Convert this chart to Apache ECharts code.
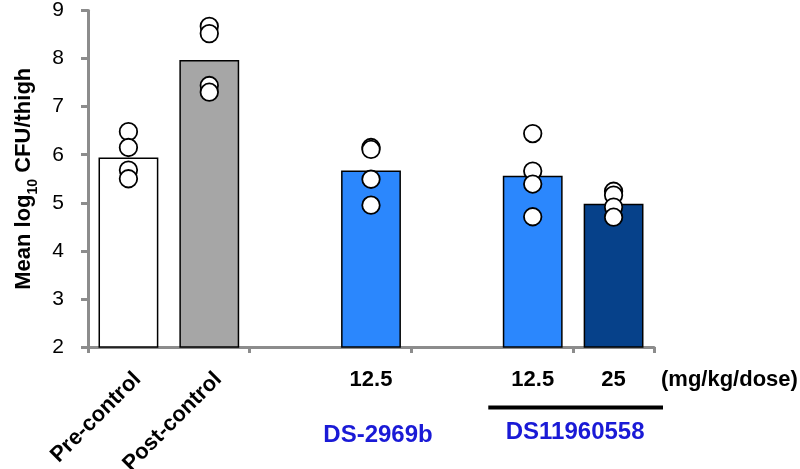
<!DOCTYPE html>
<html>
<head>
<meta charset="utf-8">
<script src="https://cdn.jsdelivr.net/npm/echarts@6/dist/echarts.min.js"></script>
<style>
html,body{margin:0;padding:0;background:#fff;}
#c{width:800px;height:469px;}
</style>
</head>
<body>
<div id="c"></div>
<script>
// ---- data ----
var categories = ['Pre-control', 'Post-control', 'gap1', 'DS-2969b 12.5', 'gap2', 'DS11960558 12.5', 'DS11960558 25'];
var controlLabels = ['Pre-control', 'Post-control', '', '', '', '', ''];
var doseLabels = ['', '', '', '12.5', '', '12.5', '25'];
var meanValues = [5.94, 7.97, null, 5.67, null, 5.56, 4.98];
var barColors = ['#ffffff', '#a6a6a6', '#ffffff', '#2b87fd', '#ffffff', '#2b87fd', '#06418a'];
var ptsPre = [6.48, 6.15, 5.68, 5.50];
var ptsPost = [8.67, 8.52, 7.44, 7.30];
var ptsDS2969b = [6.15, 6.11, 5.49, 4.95];
var ptsDS1_125 = [6.44, 5.66, 5.39, 4.71];
var ptsDS1_25 = [5.24, 5.16, 4.91, 4.70];
var yTicks = [2, 3, 4, 5, 6, 7, 8, 9];
var unitLabel = '(mg/kg/dose)';
var drug1 = 'DS-2969b';
var drug2 = 'DS11960558';

var pointGroups = [[0, ptsPre], [1, ptsPost], [3, ptsDS2969b], [5, ptsDS1_125], [6, ptsDS1_25]];
var scatterData = [];
pointGroups.forEach(function (g) {
  g[1].forEach(function (v) { scatterData.push([categories[g[0]], v]); });
});

var chart = echarts.init(document.getElementById('c'), null, {renderer: 'canvas'});
var axisGray = '#8c8c8c';
var FONT = 'Liberation Sans, Arial, sans-serif';

chart.setOption({
  animation: false,
  backgroundColor: '#ffffff',
  grid: {left: 88, right: 146, top: 10, bottom: 122, containLabel: false},
  xAxis: [{
    type: 'category',
    data: categories,
    position: 'bottom',
    axisLine: {lineStyle: {color: axisGray, width: 3}},
    axisTick: {show: true, length: 6, lineStyle: {color: axisGray, width: 3}, alignWithLabel: false},
    axisLabel: {show: false},
    splitLine: {show: false}
  }, {
    type: 'category',
    data: categories,
    position: 'bottom',
    axisLine: {show: false},
    axisTick: {show: false},
    axisLabel: {
      show: true, interval: 0, margin: 22,
      formatter: function (v, i) { return doseLabels[i]; },
      fontFamily: FONT, fontWeight: 'bold', fontSize: 22, color: '#000'
    }
  }],
  yAxis: {
    type: 'value',
    min: yTicks[0], max: yTicks[yTicks.length - 1], interval: 1,
    axisLine: {show: true, lineStyle: {color: axisGray, width: 3}},
    axisTick: {show: true, length: 7, lineStyle: {color: axisGray, width: 3}},
    axisLabel: {margin: 24, fontFamily: FONT, fontSize: 21, color: '#000'},
    splitLine: {show: false},
    name: '{b|Mean log}{s|10}{b| CFU/thigh}',
    nameLocation: 'middle',
    nameRotate: 90,
    nameGap: 53,
    nameTextStyle: {
      rich: {
        b: {fontFamily: FONT, fontWeight: 'bold', fontSize: 22, color: '#000', lineHeight: 26, verticalAlign: 'bottom'},
        s: {fontFamily: FONT, fontWeight: 'bold', fontSize: 14, color: '#000', lineHeight: 26, verticalAlign: 'bottom', padding: [0, 0, -5, 0]}
      }
    }
  },
  series: [{
    type: 'bar',
    xAxisIndex: 0,
    barWidth: '74%',
    data: meanValues.map(function (v, i) {
      return {value: v, itemStyle: {color: barColors[i]}};
    }),
    itemStyle: {borderColor: '#000', borderWidth: 1.5},
    z: 2
  }, {
    type: 'scatter',
    xAxisIndex: 0,
    data: scatterData,
    symbol: 'circle',
    symbolSize: 17.5,
    itemStyle: {color: '#ffffff', borderColor: '#000', borderWidth: 1.8, opacity: 1},
    z: 3
  }]
});

// annotations positioned through the axis scales
function px(cat) { return chart.convertToPixel({xAxisIndex: 0}, cat); }
var axisY = chart.convertToPixel({yAxisIndex: 0}, yTicks[0]);
var band = px(categories[1]) - px(categories[0]);
var graphics = [];
[0, 1].forEach(function (i) {
  graphics.push({
    type: 'text',
    x: px(categories[i]) + 9, y: axisY + 29,
    rotation: Math.PI / 4,
    style: {text: controlLabels[i], font: 'bold 22px ' + FONT, fill: '#000', align: 'right', verticalAlign: 'middle'}
  });
});
var rightEdge = px(categories[6]) + band / 2;
graphics.push({
  type: 'text', x: rightEdge + 7, y: axisY + 33,
  style: {text: unitLabel, font: 'bold 22px ' + FONT, fill: '#000', align: 'left', verticalAlign: 'middle'}
});
graphics.push({
  type: 'text', x: px(categories[3]) + 7, y: axisY + 88,
  style: {text: drug1, font: 'bold 24px ' + FONT, fill: '#1a1ad6', align: 'center', verticalAlign: 'middle'}
});
var mid56 = (px(categories[5]) + px(categories[6])) / 2;
graphics.push({
  type: 'text', x: mid56 + 2, y: axisY + 85,
  style: {text: drug2, font: 'bold 24px ' + FONT, fill: '#1a1ad6', align: 'center', verticalAlign: 'middle'}
});
graphics.push({
  type: 'line',
  shape: {x1: px(categories[5]) - band / 2 - 4, y1: axisY + 60.5, x2: rightEdge + 9, y2: axisY + 60.5},
  style: {stroke: '#000', lineWidth: 4}
});
chart.setOption({graphic: graphics});
</script>
</body>
</html>
